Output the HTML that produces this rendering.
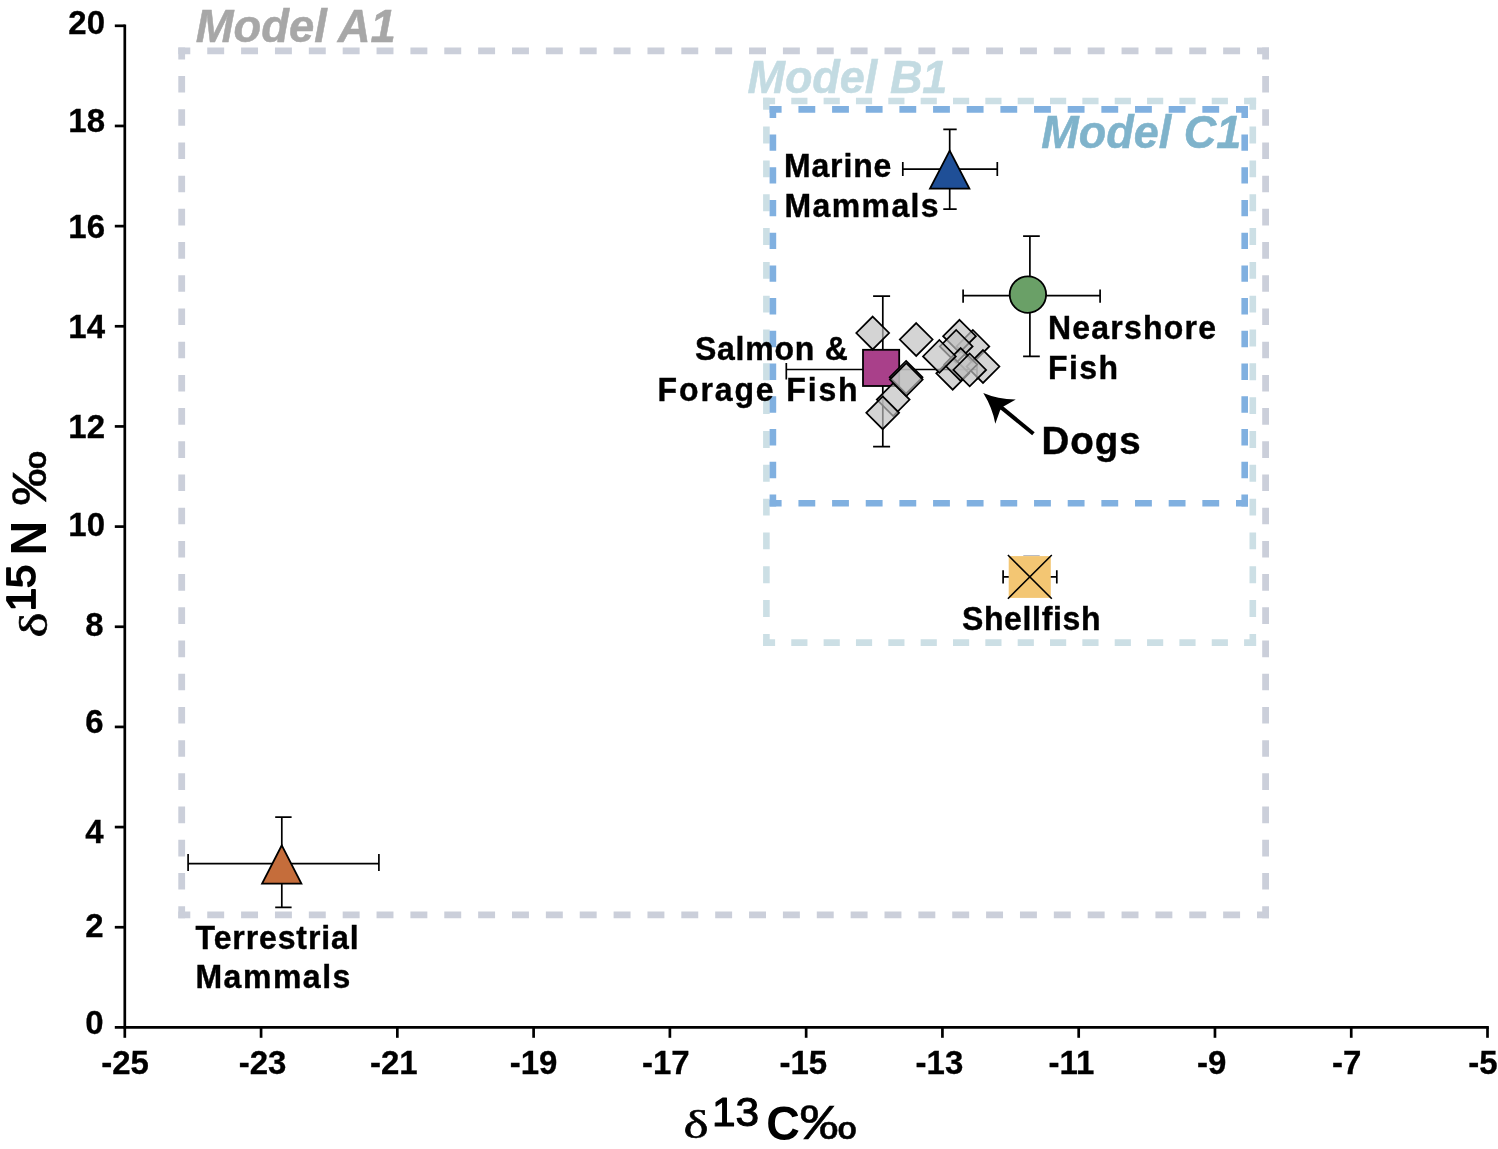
<!DOCTYPE html>
<html lang="en"><head><meta charset="utf-8"><title>Stable isotope mixing model figure</title>
<style>
html,body{margin:0;padding:0;background:#fff;}
body{width:1498px;height:1149px;overflow:hidden;}
svg{display:block;}
text{font-family:"Liberation Sans",Arial,Helvetica,sans-serif;}
.b{font-weight:bold;fill:#000;}
.lab{font-weight:bold;fill:#000;font-size:32px;stroke:#000;stroke-width:0.4px;}
.tick{font-weight:bold;fill:#000;font-size:33px;stroke:#000;stroke-width:0.3px;}
.model{font-weight:bold;font-style:italic;font-size:44.5px;}
.eb{stroke:#000;stroke-width:1.7;fill:none;}
.dia{fill:rgba(192,192,192,0.68);stroke:#000;stroke-width:1.75;stroke-linejoin:miter;}
</style></head><body>
<svg width="1498" height="1149" viewBox="0 0 1498 1149">
<rect x="0" y="0" width="1498" height="1149" fill="#ffffff"/>
<g id="boxes" fill="none">
<line x1="178.30" y1="50.80" x2="1269.00" y2="50.80" stroke="#CBCFDA" stroke-width="6.80" stroke-dasharray="16.932 16.932" stroke-dashoffset="4.932"/>
<line x1="178.30" y1="914.80" x2="1269.00" y2="914.80" stroke="#CBCFDA" stroke-width="6.80" stroke-dasharray="16.932 16.932" stroke-dashoffset="4.932"/>
<line x1="181.70" y1="47.40" x2="181.70" y2="918.20" stroke="#CBCFDA" stroke-width="6.80" stroke-dasharray="16.604 16.604" stroke-dashoffset="4.604"/>
<line x1="1265.60" y1="47.40" x2="1265.60" y2="918.20" stroke="#CBCFDA" stroke-width="6.80" stroke-dasharray="16.604 16.604" stroke-dashoffset="4.604"/>
<line x1="763.10" y1="101.00" x2="1256.10" y2="101.00" stroke="#CCDFE5" stroke-width="6.60" stroke-dasharray="16.172 16.172" stroke-dashoffset="4.172"/>
<line x1="763.10" y1="642.60" x2="1256.10" y2="642.60" stroke="#CCDFE5" stroke-width="6.60" stroke-dasharray="16.172 16.172" stroke-dashoffset="4.172"/>
<line x1="766.40" y1="97.70" x2="766.40" y2="645.90" stroke="#CCDFE5" stroke-width="6.60" stroke-dasharray="16.910 16.910" stroke-dashoffset="4.910"/>
<line x1="1252.80" y1="97.70" x2="1252.80" y2="645.90" stroke="#CCDFE5" stroke-width="6.60" stroke-dasharray="16.910 16.910" stroke-dashoffset="4.910"/>
<line x1="769.60" y1="109.40" x2="1248.00" y2="109.40" stroke="#80B0E0" stroke-width="6.60" stroke-dasharray="16.830 16.830" stroke-dashoffset="4.830"/>
<line x1="769.60" y1="503.20" x2="1248.00" y2="503.20" stroke="#80B0E0" stroke-width="6.60" stroke-dasharray="16.830 16.830" stroke-dashoffset="4.830"/>
<line x1="772.90" y1="106.10" x2="772.90" y2="506.50" stroke="#80B0E0" stroke-width="6.60" stroke-dasharray="16.365 16.365" stroke-dashoffset="4.365"/>
<line x1="1244.70" y1="106.10" x2="1244.70" y2="506.50" stroke="#80B0E0" stroke-width="6.60" stroke-dasharray="16.365 16.365" stroke-dashoffset="4.365"/>
</g>
<text transform="translate(195.8 42.2) scale(1.000 1.030)" class="model" fill="#A7A7A7" stroke="#A7A7A7" stroke-width="0.5" textLength="200" lengthAdjust="spacingAndGlyphs">Model A1</text>
<text transform="translate(747.4 92.5) scale(1.000 1.030)" class="model" fill="#C3DBE2" stroke="#C3DBE2" stroke-width="0.5" textLength="200" lengthAdjust="spacingAndGlyphs">Model B1</text>
<text transform="translate(1041.3 148.2) scale(1.000 1.030)" class="model" fill="#7FB3CB" stroke="#7FB3CB" stroke-width="0.5" textLength="200" lengthAdjust="spacingAndGlyphs">Model C1</text>
<g id="axes" stroke="#000" stroke-width="2.7" fill="none">
<line x1="124.80" y1="24.40" x2="124.80" y2="1028.75"/>
<line x1="114.80" y1="1027.40" x2="1488.85" y2="1027.40"/>
<line x1="114.8" y1="927.24" x2="124.80" y2="927.24"/>
<line x1="114.8" y1="827.08" x2="124.80" y2="827.08"/>
<line x1="114.8" y1="726.92" x2="124.80" y2="726.92"/>
<line x1="114.8" y1="626.76" x2="124.80" y2="626.76"/>
<line x1="114.8" y1="526.60" x2="124.80" y2="526.60"/>
<line x1="114.8" y1="426.44" x2="124.80" y2="426.44"/>
<line x1="114.8" y1="326.28" x2="124.80" y2="326.28"/>
<line x1="114.8" y1="226.12" x2="124.80" y2="226.12"/>
<line x1="114.8" y1="125.96" x2="124.80" y2="125.96"/>
<line x1="114.8" y1="25.80" x2="124.80" y2="25.80"/>
<line x1="124.80" y1="1027.40" x2="124.80" y2="1037.8"/>
<line x1="261.07" y1="1027.40" x2="261.07" y2="1037.8"/>
<line x1="397.34" y1="1027.40" x2="397.34" y2="1037.8"/>
<line x1="533.61" y1="1027.40" x2="533.61" y2="1037.8"/>
<line x1="669.88" y1="1027.40" x2="669.88" y2="1037.8"/>
<line x1="806.15" y1="1027.40" x2="806.15" y2="1037.8"/>
<line x1="942.42" y1="1027.40" x2="942.42" y2="1037.8"/>
<line x1="1078.69" y1="1027.40" x2="1078.69" y2="1037.8"/>
<line x1="1214.96" y1="1027.40" x2="1214.96" y2="1037.8"/>
<line x1="1351.23" y1="1027.40" x2="1351.23" y2="1037.8"/>
<line x1="1487.50" y1="1027.40" x2="1487.50" y2="1037.8"/>
</g>
<g id="yticks" class="tick" text-anchor="end">
<text transform="translate(105.0 34.4) scale(1.000 1.020)" >20</text>
<text transform="translate(105.0 131.6) scale(1.000 1.020)" >18</text>
<text transform="translate(105.0 238.0) scale(1.000 1.020)" >16</text>
<text transform="translate(105.0 338.3) scale(1.000 1.020)" >14</text>
<text transform="translate(105.0 438.3) scale(1.000 1.020)" >12</text>
<text transform="translate(105.0 535.8) scale(1.000 1.020)" >10</text>
<text transform="translate(103.5 635.8) scale(1.000 1.020)" >8</text>
<text transform="translate(103.5 733.4) scale(1.000 1.020)" >6</text>
<text transform="translate(103.5 842.9) scale(1.000 1.020)" >4</text>
<text transform="translate(103.5 937.3) scale(1.000 1.020)" >2</text>
<text transform="translate(103.5 1034.0) scale(1.000 1.020)" >0</text>
</g>
<g id="xticks" class="tick">
<text transform="translate(101.2 1073.7) scale(1.000 1.020)" >-25</text>
<text transform="translate(238.7 1073.7) scale(1.000 1.020)" >-23</text>
<text transform="translate(369.9 1073.7) scale(1.000 1.020)" >-21</text>
<text transform="translate(509.7 1073.7) scale(1.000 1.020)" >-19</text>
<text transform="translate(641.9 1073.7) scale(1.000 1.020)" >-17</text>
<text transform="translate(779.4 1073.7) scale(1.000 1.020)" >-15</text>
<text transform="translate(915.6 1073.7) scale(1.000 1.020)" >-13</text>
<text transform="translate(1048.4 1073.7) scale(1.000 1.020)" >-11</text>
<text transform="translate(1197.0 1073.7) scale(1.000 1.020)" >-9</text>
<text transform="translate(1331.9 1073.7) scale(1.000 1.020)" >-7</text>
<text transform="translate(1468.2 1073.7) scale(1.000 1.020)" >-5</text>
</g>
<g id="xtitle" fill="#000">
<text transform="translate(683.6 1138.3) scale(1.270 0.960)" style="font-family:'Liberation Serif','DejaVu Serif',serif" font-size="42" stroke="#000" stroke-width="0.6">δ</text>
<text transform="translate(712.0 1125.7) scale(1.060 1.025)" font-size="40" stroke="#000" stroke-width="1.1" stroke-linejoin="round">13</text>
<text transform="translate(766.2 1139.6) scale(0.970 1.020)" font-size="48" font-weight="bold">C</text>
<text transform="translate(799.4 1139.4) scale(1.200 1.000)" font-size="48" stroke="#000" stroke-width="0.5">‰</text>
</g>
<g id="ytitle" fill="#000" transform="translate(45.6 0) rotate(-90)">
<text transform="translate(-637.6 1.8) scale(1.270 0.960)" style="font-family:'Liberation Serif','DejaVu Serif',serif" font-size="42" stroke="#000" stroke-width="0.6">δ</text>
<text transform="translate(-611.3 -10.6) scale(1.045 1.010)" font-size="40" stroke="#000" stroke-width="1.8" stroke-linejoin="round">15</text>
<text transform="translate(-555.5 0.0) scale(1.000 1.025)" font-size="48" font-weight="bold">N</text>
<text transform="translate(-505.8 0.2) scale(1.150 1.000)" font-size="48" stroke="#000" stroke-width="0.5">‰</text>
</g>
<g id="errorbars">
<path class="eb" d="M188.1 863.7H378.9M188.1 854.1V871.1M378.9 854.1V871.1M281.8 817.1V907.4M275.2 817.1H291.6M275.2 907.4H291.6"/>
<path class="eb" d="M902.8 169.1H997.3M902.8 162.1V176.1M997.3 162.1V176.1M949.7 129.4V209.2M943.3 129.4H956.7M943.3 209.2H956.7"/>
<path class="eb" d="M963.1 295.7H1100.1M963.1 289.6V302.8M1100.1 289.6V302.8M1029.9 236.1V356.4M1023.1 236.1H1039.8M1023.1 356.4H1039.8"/>
<path class="eb" d="M786.3 369.5H977.0M786.3 363.1V379.5M977.0 363.1V379.5M882.8 296.2V446.7M873.1 296.2H890.1M873.1 446.7H890.1"/>
<path class="eb" d="M1003.1 576.9H1056.8M1003.1 570.3V583.5M1056.8 570.3V583.5"/>
<path d="M1023.3 555.6H1039.7" stroke="#b9bcc4" stroke-width="1.2" fill="none"/>
</g>
<g id="markers" stroke="#000" stroke-width="1.8" stroke-linejoin="miter">
<path d="M281.8 845.3L301.4 883.6H262.1Z" fill="#C56D3B"/>
<path d="M949.7 150.6L969.4 188.6H930.0Z" fill="#1F4F97"/>
<circle cx="1027.9" cy="294.6" r="18.2" fill="#6AA067" stroke-width="1.8"/>
<rect x="863.0" y="349.8" width="36.2" height="36.2" fill="#A9408A"/>
</g>
<g id="shellfish">
<rect x="1008.7" y="556.1" width="42.1" height="41.8" fill="#F3C673"/>
<path d="M1007.9 555.0L1051.8 598.7M1051.8 555.0L1007.9 598.7" stroke="#000" stroke-width="1.6" fill="none"/>
</g>
<g id="dogs">
<path class="dia" d="M872.7 316.6L889.1 333.0L872.7 349.4L856.3 333.0Z"/>
<path class="dia" d="M916.2 323.1L932.6 339.5L916.2 355.9L899.8 339.5Z"/>
<path class="dia" d="M972.9 330.0L989.3 346.4L972.9 362.8L956.5 346.4Z"/>
<path class="dia" d="M959.5 319.8L975.9 336.2L959.5 352.6L943.1 336.2Z"/>
<path class="dia" d="M983.0 350.1L999.4 366.5L983.0 382.9L966.6 366.5Z"/>
<path class="dia" d="M956.2 330.0L972.6 346.4L956.2 362.8L939.8 346.4Z"/>
<path class="dia" d="M952.7 356.9L969.1 373.3L952.7 389.7L936.3 373.3Z"/>
<path class="dia" d="M960.7 348.1L977.1 364.5L960.7 380.9L944.3 364.5Z"/>
<path class="dia" d="M939.4 340.0L955.8 356.4L939.4 372.8L923.0 356.4Z"/>
<path class="dia" d="M969.7 353.5L986.1 369.9L969.7 386.3L953.3 369.9Z"/>
<path class="dia" d="M893.2 383.2L909.6 399.6L893.2 416.0L876.8 399.6Z"/>
<path class="dia" d="M882.7 396.4L899.1 412.8L882.7 429.2L866.3 412.8Z"/>
<path class="dia" d="M906.1 360.9L922.5 377.3L906.1 393.7L889.7 377.3Z"/>
<path class="dia" d="M906.3 363.2L922.7 379.6L906.3 396.0L889.9 379.6Z"/>
</g>
<g id="arrow">
<path d="M1033.4 433.7L1001.5 407.6" stroke="#000" stroke-width="4" fill="none"/>
<path d="M983.3 393.1Q998 399.5 1015.8 399.4L1003.0 406.8L1000.0 410.5L995.3 423.8Q992.5 408 983.3 393.1Z" fill="#000"/>
</g>
<g id="labels" class="lab">
<text transform="translate(195.6 948.8) scale(1.000 1.025)" textLength="163.0" lengthAdjust="spacing">Terrestrial</text>
<text transform="translate(195.4 988.4) scale(1.000 1.025)" textLength="155.0" lengthAdjust="spacing">Mammals</text>
<text transform="translate(783.9 177.1) scale(1.000 1.025)" textLength="107.5" lengthAdjust="spacing">Marine</text>
<text transform="translate(784.6 217.2) scale(1.000 1.025)" textLength="154.0" lengthAdjust="spacing">Mammals</text>
<text transform="translate(1048.0 338.7) scale(1.000 1.025)" textLength="168.0" lengthAdjust="spacing">Nearshore</text>
<text transform="translate(1048.0 378.7) scale(1.000 1.025)" textLength="70.0" lengthAdjust="spacing">Fish</text>
<text transform="translate(694.9 360.4) scale(1.000 1.025)" textLength="153.0" lengthAdjust="spacing">Salmon &amp;</text>
<text transform="translate(657.6 400.5) scale(1.000 1.025)" textLength="200.0" lengthAdjust="spacing">Forage Fish</text>
<text transform="translate(961.9 629.6) scale(1.000 1.025)" textLength="138.6" lengthAdjust="spacing">Shellfish</text>
<text x="1041.6" y="453.5" font-size="38.5" textLength="99.0" lengthAdjust="spacing">Dogs</text>
</g>
</svg>
</body></html>
